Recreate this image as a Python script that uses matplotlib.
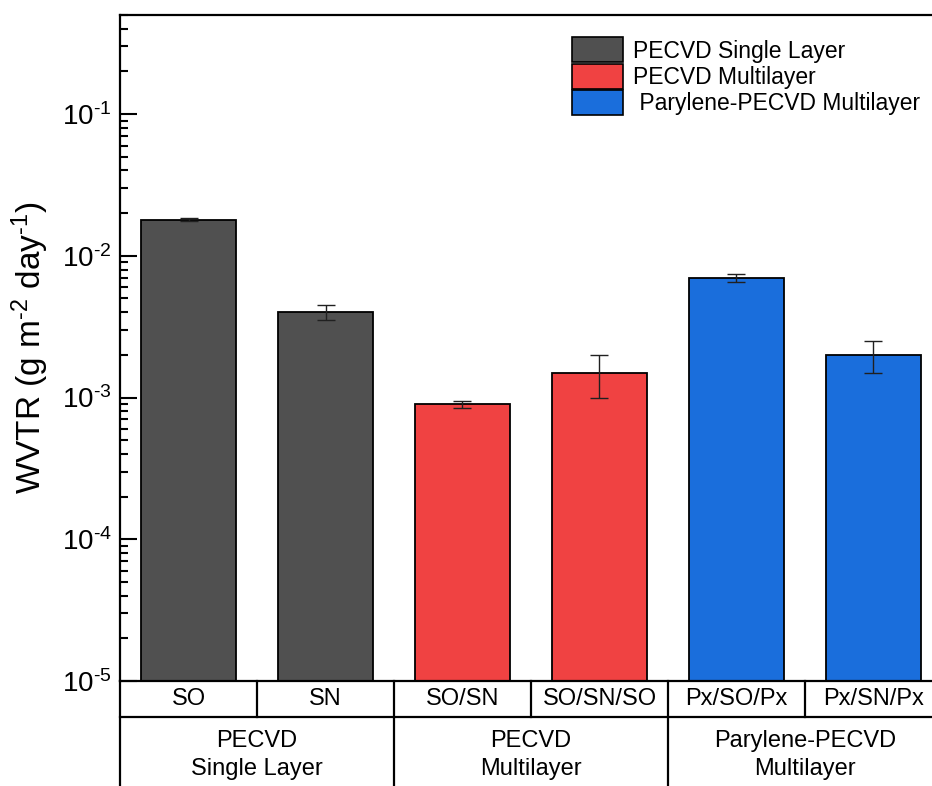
import matplotlib
matplotlib.use("Agg")
import matplotlib.pyplot as plt
import matplotlib.patches as mpatches
from matplotlib.ticker import LogLocator, FuncFormatter
import numpy as np

plt.rcParams['font.family'] = ['Liberation Sans', 'DejaVu Sans']
plt.rcParams['mathtext.fontset'] = 'custom'
plt.rcParams['mathtext.rm'] = 'Liberation Sans'
plt.rcParams['mathtext.it'] = 'Liberation Sans:italic'
plt.rcParams['mathtext.default'] = 'regular'

samples = ['SO', 'SN', 'SO/SN', 'SO/SN/SO', 'Px/SO/Px', 'Px/SN/Px']
wvtr = [0.018, 0.004, 0.0009, 0.0015, 0.007, 0.002]
wvtr_err = [0.0005, 0.0005, 0.00005, 0.0005, 0.0005, 0.0005]
groups = ['PECVD\nSingle Layer', 'PECVD\nMultilayer', 'Parylene-PECVD\nMultilayer']
group_of = [0, 0, 1, 1, 2, 2]
legend_names = ['PECVD Single Layer', 'PECVD Multilayer', ' Parylene-PECVD Multilayer']
colors = ['#505050', '#F04242', '#1A6EDC']

fig = plt.figure(figsize=(9.32, 7.86), dpi=100)
# axes frame runs a little past the right edge of the picture
ax = fig.add_axes([120 / 932, 1 - 681 / 786, 822 / 932, 666 / 786])

x = np.arange(len(samples))
bar_colors = [colors[g] for g in group_of]
ax.bar(x, wvtr, width=0.7, color=bar_colors, edgecolor='black', linewidth=1.3,
       bottom=1e-6, zorder=2)
ax.errorbar(x, wvtr, yerr=wvtr_err, fmt='none', ecolor='#202020',
            elinewidth=1.0, capsize=6.5, capthick=1.0, zorder=3)

ax.set_yscale('log')
ax.set_ylim(1e-5, 0.5)
ax.set_xlim(-0.5, len(samples) - 0.5)
ax.yaxis.set_major_locator(LogLocator(base=10, numticks=10))
ax.yaxis.set_minor_locator(LogLocator(base=10, subs=np.arange(2, 10), numticks=20))
ax.yaxis.set_major_formatter(FuncFormatter(
    lambda v, pos: '$10^{\u2010%d}$' % round(-np.log10(v))))
ax.set_xticks([])
ax.tick_params(axis='y', which='major', direction='in', length=12, width=1.5,
               labelsize=20, pad=6)
ax.tick_params(axis='y', which='minor', direction='in', length=6, width=1.5)
for s in ax.spines.values():
    s.set_linewidth(1.6)
ax.spines['right'].set_visible(False)

ax.set_ylabel('WVTR (g m$^{\u20102}$ day$^{\u20101}$)', fontsize=24, labelpad=8)

# two-level category table under the axes
tr = ax.get_xaxis_transform()
row1 = -36 / 666
row2 = -105 / 666
lw = 1.6
ax.plot([-0.5, len(samples) - 0.5], [row1, row1], color='black', lw=lw,
        transform=tr, clip_on=False)
ax.plot([-0.5, -0.5], [0, row2], color='black', lw=lw, transform=tr, clip_on=False)
for i in range(1, len(samples)):
    bottom = row2 if group_of[i] != group_of[i - 1] else row1
    ax.plot([i - 0.5, i - 0.5], [0, bottom], color='black', lw=lw,
            transform=tr, clip_on=False)
for i, name in enumerate(samples):
    ax.text(i, row1 / 2, name, transform=tr, ha='center', va='center', fontsize=17)
for g, name in enumerate(groups):
    idx = [i for i in range(len(samples)) if group_of[i] == g]
    ax.text(np.mean(idx), -74 / 666, name, transform=tr, ha='center', va='center',
            fontsize=17, linespacing=1.4)

handles = [mpatches.Patch(facecolor=c, edgecolor='black', linewidth=1.2) for c in colors]
ax.legend(handles, legend_names, loc='upper left', bbox_to_anchor=(0.539, 0.98),
          frameon=False, fontsize=16.5, handlelength=2.2, handleheight=1.3,
          handletextpad=0.45, labelspacing=0.05, borderaxespad=0.0)

fig.savefig('out.png', dpi=100)
